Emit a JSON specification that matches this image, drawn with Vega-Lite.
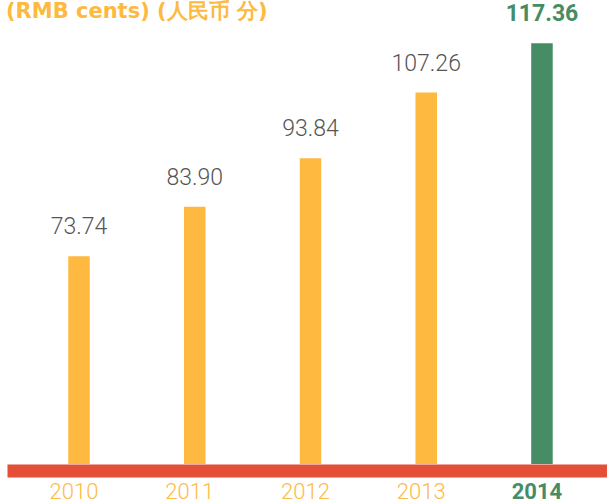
{
  "$schema": "https://vega.github.io/schema/vega-lite/v6.json",
  "width": 607,
  "height": 434,
  "autosize": "none",
  "padding": {"top": 30, "left": 0, "right": 0, "bottom": 38},
  "background": "white",
  "config": {"view": {"stroke": null}},
  "title": {
    "text": "(RMB cents) (人民币 分)",
    "anchor": "start",
    "frame": "group",
    "offset": -36,
    "dx": 6,
    "baseline": "alphabetic",
    "font": "DejaVu Sans",
    "fontSize": 21,
    "fontWeight": "bold",
    "color": "#FDB940"
  },
  "data": {
    "values": [
      {"year": "2010", "value": 73.74},
      {"year": "2011", "value": 83.90},
      {"year": "2012", "value": 93.84},
      {"year": "2013", "value": 107.26},
      {"year": "2014", "value": 117.36}
    ]
  },
  "encoding": {
    "x": {
      "field": "year",
      "type": "ordinal",
      "scale": {"type": "band", "range": [7, 614], "paddingInner": 0, "paddingOuter": 0.1223},
      "axis": {
        "title": null,
        "labelAngle": 0,
        "domainColor": "#E44F37",
        "domainWidth": 13,
        "offset": 6.5,
        "ticks": false,
        "tickSize": 0,
        "labelPadding": 10.5,
        "labelOffset": -5,
        "labelFont": "Roboto",
        "labelFontSize": 22,
        "labelFontWeight": {"condition": {"test": "datum.value === '2014'", "value": "bold"}, "value": 300},
        "labelColor": {"condition": {"test": "datum.value === '2014'", "value": "#468C65"}, "value": "#FDBA46"}
      }
    },
    "y": {
      "field": "value",
      "type": "quantitative",
      "scale": {"domain": [31.25, 120.06], "zero": false, "nice": false},
      "axis": null
    }
  },
  "layer": [
    {
      "mark": {"type": "bar", "size": 21.5, "clip": true},
      "encoding": {
        "color": {"condition": {"test": "datum.year === '2014'", "value": "#468C65"}, "value": "#FDB940"}
      }
    },
    {
      "transform": [{"filter": "datum.year !== '2014'"}],
      "mark": {"type": "text", "dy": -22, "baseline": "alphabetic", "font": "Roboto", "fontSize": 23, "fontWeight": 300, "color": "#555555"},
      "encoding": {"text": {"field": "value", "type": "quantitative", "format": ".2f"}}
    },
    {
      "transform": [{"filter": "datum.year === '2014'"}],
      "mark": {"type": "text", "dy": -22, "baseline": "alphabetic", "font": "Roboto", "fontSize": 23, "fontWeight": "bold", "color": "#468C65"},
      "encoding": {"text": {"field": "value", "type": "quantitative", "format": ".2f"}}
    }
  ]
}
